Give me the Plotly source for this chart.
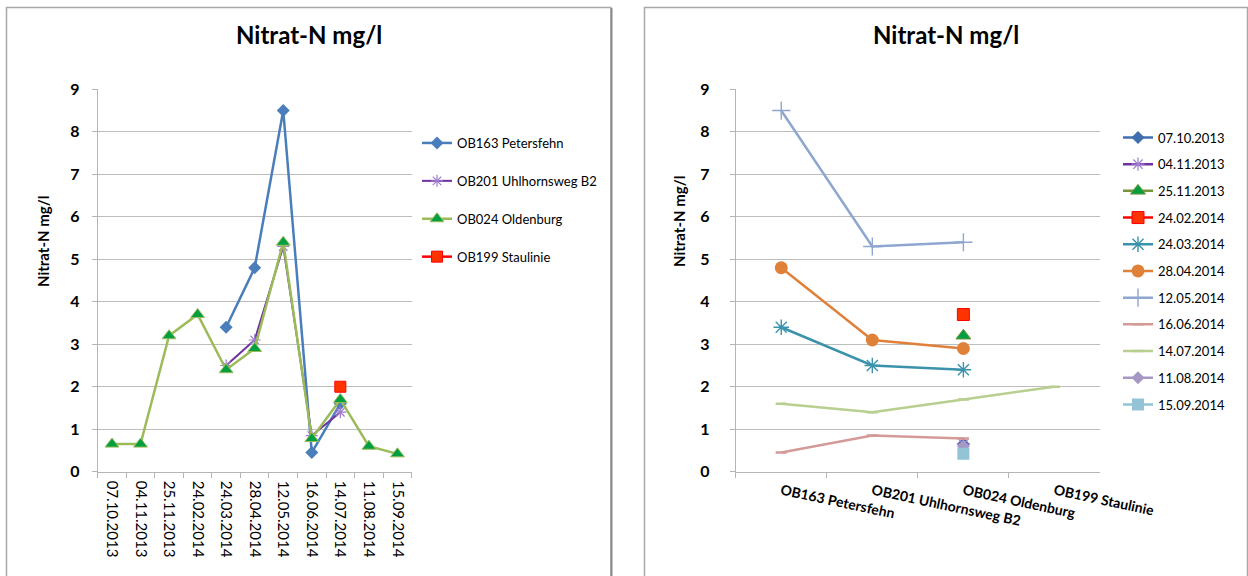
import plotly.graph_objects as go

# ---------------- data ----------------
dates = ["07.10.2013", "04.11.2013", "25.11.2013", "24.02.2014", "24.03.2014",
         "28.04.2014", "12.05.2014", "16.06.2014", "14.07.2014", "11.08.2014",
         "15.09.2014"]
locations = ["OB163 Petersfehn", "OB201 Uhlhornsweg B2", "OB024 Oldenburg",
             "OB199 Staulinie"]
ob163_petersfehn = [None, None, None, None, 3.4, 4.8, 8.5, 0.45, 1.6, None, None]
ob201_uhlhornsweg = [None, None, None, None, 2.5, 3.1, 5.3, 0.85, 1.4, None, None]
ob024_oldenburg = [0.65, 0.65, 3.2, 3.7, 2.4, 2.9, 5.4, 0.78, 1.7, 0.6, 0.42]
ob199_staulinie = [None, None, None, None, None, None, None, None, 2.0, None, None]
y_ticks = [0, 1, 2, 3, 4, 5, 6, 7, 8, 9]
title_text = "Nitrat-N mg/l"
ytitle_text = "Nitrat-N mg/l"

series_by_location = [ob163_petersfehn, ob201_uhlhornsweg, ob024_oldenburg, ob199_staulinie]

# ---------------- styles ----------------
W, H = 1248, 576
FONT = "Lato"

left_styles = [
    dict(line="#4A7EBB", width=2.5, symbol="diamond", mcolor="#4A7EBB", mline="#4A7EBB", mlw=0, size=10),
    dict(line="#7030A0", width=2.0, symbol="asterisk-open", mcolor="#A07CD0", mline="#A07CD0", mlw=1.2, size=10),
    dict(line="#9BBB59", width=2.5, symbol="triangle-up", mcolor="#00A040", mline="#9BBB59", mlw=1, size=12),
    dict(line="#FF0000", width=2.5, symbol="square", mcolor="#FF3300", mline="#FF0000", mlw=1, size=11),
]
right_styles = [
    dict(line="#3F6FAE", width=2.5, symbol="diamond", mcolor="#3F6FAE", mline="#3F6FAE", mlw=0, size=10),
    dict(line="#7030A0", width=2.5, symbol="asterisk-open", mcolor="#A07CD0", mline="#A07CD0", mlw=1.2, size=11),
    dict(line="#77933C", width=2.5, symbol="triangle-up", mcolor="#00A040", mline="#77933C", mlw=1, size=13),
    dict(line="#FF0000", width=2.5, symbol="square", mcolor="#FF3300", mline="#FF0000", mlw=1, size=12),
    dict(line="#3A93AB", width=2.5, symbol="asterisk-open", mcolor="#3A93AB", mline="#3A93AB", mlw=1.4, size=13),
    dict(line="#E0813A", width=2.5, symbol="circle", mcolor="#E0813A", mline="#E0813A", mlw=0, size=13),
    dict(line="#8EA6D0", width=2.5, symbol="cross-thin-open", mcolor="#8EA6D0", mline="#8EA6D0", mlw=1.4, size=13),
    dict(line="#D49A98", width=2.5, symbol="line-ew-open", mcolor="#D49A98", mline="#D49A98", mlw=2.5, size=8),
    dict(line="#B8CF90", width=2.5, symbol="line-ew-open", mcolor="#B8CF90", mline="#B8CF90", mlw=2.5, size=8),
    dict(line="#A598C4", width=2.5, symbol="diamond", mcolor="#A598C4", mline="#A598C4", mlw=0, size=10),
    dict(line="#93C4D6", width=2.5, symbol="square", mcolor="#93C4D6", mline="#93C4D6", mlw=0, size=12),
]

fig = go.Figure()

# left chart: one trace per location over dates
for i, (name, vals) in enumerate(zip(locations, series_by_location)):
    s = left_styles[i]
    fig.add_trace(go.Scatter(
        x=dates, y=vals, name=name, mode="lines+markers",
        xaxis="x", yaxis="y", legend="legend", legendgroup="L%d" % i,
        line=dict(color=s["line"], width=s["width"]),
        marker=dict(symbol=s["symbol"], color=s["mcolor"], size=s["size"],
                    line=dict(color=s["mline"], width=s["mlw"])),
        connectgaps=False,
    ))

# right chart: one trace per date over locations (transpose of the same table)
for j, d in enumerate(dates):
    s = right_styles[j]
    vals = [series_by_location[k][j] for k in range(len(locations))]
    fig.add_trace(go.Scatter(
        x=locations, y=vals, name=d, mode="lines+markers",
        xaxis="x2", yaxis="y2", legend="legend2", legendgroup="R%d" % j,
        line=dict(color=s["line"], width=s["width"]),
        marker=dict(symbol=s["symbol"], color=s["mcolor"], size=s["size"],
                    line=dict(color=s["mline"], width=s["mlw"])),
        connectgaps=False,
    ))

GRID = "#BDBDBD"
AXIS = "#B5B5B5"

def px(x):
    return x / W

def py(y):
    return 1 - y / H

yaxis_common = dict(
    range=[0, 9], tickvals=y_ticks, showgrid=True, gridcolor=GRID, gridwidth=1,
    showline=True, linecolor=AXIS, linewidth=1, zeroline=False,
    ticks="outside", ticklen=5, tickcolor=AXIS, automargin=False,
    tickfont=dict(family=FONT, size=16, color="#000", weight="bold"),
    fixedrange=True,
)

fig.update_layout(
    width=W, height=H, margin=dict(l=0, r=0, t=0, b=0, autoexpand=False),
    paper_bgcolor="white", plot_bgcolor="white",
    font=dict(family=FONT, color="#000"),
    showlegend=True,
    xaxis=dict(
        domain=[px(97.7), px(411.7)], anchor="y", type="category",
        categoryorder="array", categoryarray=dates, range=[-0.5, len(dates) - 0.5],
        tickson="boundaries", ticks="outside", ticklen=5, tickcolor=AXIS,
        showline=True, linecolor=AXIS, linewidth=1, showgrid=False, automargin=False,
        tickangle=90, ticklabelstandoff=5,
        tickfont=dict(family=FONT, size=15, color="#000"),
    ),
    yaxis=dict(domain=[py(471.7), py(89.3)], anchor="x", ticklabelstandoff=9, **yaxis_common),
    xaxis2=dict(
        domain=[px(735.7), px(1100)], anchor="y2", type="category",
        categoryorder="array", categoryarray=locations, range=[-0.5, len(locations) - 0.5],
        tickson="boundaries", ticks="outside", ticklen=5, tickcolor=AXIS,
        showline=True, linecolor=AXIS, linewidth=1, showgrid=False, automargin=False,
        tickangle=12, ticklabelstandoff=5,
        tickfont=dict(family=FONT, size=14, color="#000", weight="bold"),
    ),
    yaxis2=dict(domain=[py(471.7), py(89.3)], anchor="x2", ticklabelstandoff=17, **yaxis_common),
    legend=dict(
        x=px(417), y=py(128), xanchor="left", yanchor="top",
        xref="container", yref="container", maxheight=500,
        font=dict(family=FONT, size=13, color="#000"),
        tracegroupgap=18, bgcolor="rgba(0,0,0,0)", borderwidth=0,
    ),
    legend2=dict(
        x=px(1118), y=py(122.5), xanchor="left", yanchor="top",
        xref="container", yref="container", maxheight=500,
        font=dict(family=FONT, size=13, color="#000"),
        tracegroupgap=6.8, bgcolor="rgba(0,0,0,0)", borderwidth=0,
    ),
    annotations=[
        dict(text=title_text, x=px(309), y=py(35), xref="paper", yref="paper",
             showarrow=False, xanchor="center", yanchor="middle",
             font=dict(family=FONT, size=24, color="#000", weight="bold")),
        dict(text=title_text, x=px(946), y=py(35), xref="paper", yref="paper",
             showarrow=False, xanchor="center", yanchor="middle",
             font=dict(family=FONT, size=24, color="#000", weight="bold")),
        dict(text=ytitle_text, x=px(43), y=py(242), xref="paper", yref="paper",
             showarrow=False, xanchor="center", yanchor="middle", textangle=-90,
             font=dict(family=FONT, size=15, color="#000", weight="bold")),
        dict(text=ytitle_text, x=px(679), y=py(222), xref="paper", yref="paper",
             showarrow=False, xanchor="center", yanchor="middle", textangle=-90,
             font=dict(family=FONT, size=15, color="#000", weight="bold")),
    ],
    shapes=[
        dict(type="rect", xref="paper", yref="paper", x0=px(6.5), x1=px(611), y0=py(590), y1=py(7.5),
             line=dict(color="#A8A8A8", width=1.5), layer="below"),
        dict(type="line", xref="paper", yref="paper", x0=px(611.5), x1=px(611.5), y0=py(590), y1=py(8),
             line=dict(color="#8A8A8A", width=2)),
        dict(type="rect", xref="paper", yref="paper", x0=px(644.5), x1=px(1247.5), y0=py(590), y1=py(7.5),
             line=dict(color="#A8A8A8", width=1.5), layer="below"),
    ],
)

fig.write_html("out.html")
